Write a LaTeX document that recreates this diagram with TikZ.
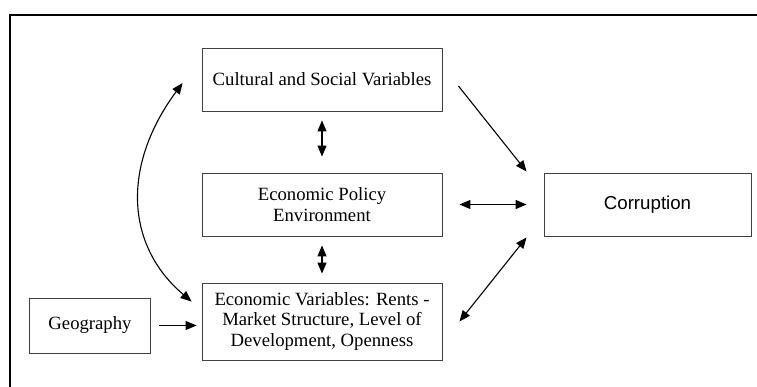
\documentclass[tikz,border=0pt]{standalone}
\usepackage{fontspec}
\setmainfont{Liberation Serif}
\newfontfamily\arialfont{Liberation Sans}
\usetikzlibrary{arrows.meta}

\tikzset{
  box/.style={draw=black!75, line width=0.9pt, fill=white, align=center,
    inner sep=2pt, font=\fontsize{18.7}{20.5}\selectfont},
  link/.style={line width=1.1pt, draw=black},
  tip/.style={-{Triangle[length=11pt,width=9pt]}},
  tips/.style={{Triangle[length=11pt,width=9pt]}-{Triangle[length=11pt,width=9pt]}},
}

\begin{document}
\begin{tikzpicture}[x=1pt,y=-1pt]
  % canvas
  \useasboundingbox (0,0) rectangle (757,387);
  \fill[white] (0,0) rectangle (757,387);

  % outer frame (runs off the right and bottom edges)
  \draw[line width=2.2pt, line cap=rect] (10,400) -- (10,15) -- (770,15);

  % boxes
  \node[box, minimum width=240pt, minimum height=63pt] (cult) at (322,79.5)
    {Cultural and Social Variables};
  \node[box, minimum width=240pt, minimum height=63pt] (pol) at (322,204.5)
    {Economic Policy\\Environment};
  \node[box, minimum width=240pt, minimum height=77pt] (econ) at (322,321.5)
    {Economic Variables: Rents -\\Market Structure, Level of\\Development, Openness};
  \node[box, minimum width=121pt, minimum height=55pt] (geo) at (90,325.5)
    {Geography};
  \node[box, minimum width=207pt, minimum height=63pt,
        font=\arialfont\fontsize{18.7}{20.5}\selectfont] (corr) at (647.5,204.5)
    {Corruption};

  % links between the middle column
  \draw[link, tips, shorten <=9pt, shorten >=16pt] (cult.south) -- (pol.north);
  \draw[link, tips, shorten <=9pt, shorten >=9pt] (pol.south) -- (econ.north);

  % links to corruption
  \draw[link, tip] ([xshift=16pt,yshift=-6.5pt]cult.east)
    -- ([xshift=-17pt,yshift=1pt]corr.north west);
  \draw[link, tips, shorten <=17pt, shorten >=17pt] (pol.east) -- (corr.west);
  \draw[link, tips] ([xshift=17pt]econ.east)
    -- ([xshift=-17pt,yshift=-1pt]corr.south west);

  % geography feeds the economic variables
  \draw[link, tip, shorten <=8pt, shorten >=5pt] (geo.east) -- (geo.east -| econ.west);

  % curved link between cultural and economic variables
  \draw[link, tips] ([xshift=-19pt,yshift=-3.5pt]cult.west)
    .. controls (122,165) and (125,245) .. ([xshift=-10pt,yshift=-19pt]econ.north west);
\end{tikzpicture}
\end{document}
